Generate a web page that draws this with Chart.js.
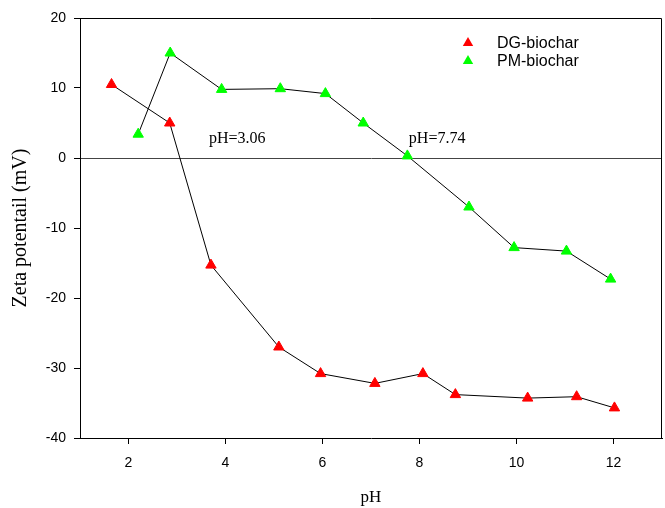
<!DOCTYPE html>
<html>
<head>
<meta charset="utf-8">
<script src="https://cdn.jsdelivr.net/npm/chart.js@4/dist/chart.umd.min.js"></script>
<style>
  html, body { margin: 0; padding: 0; background: #fff; }
  #wrap { width: 665px; height: 508px; }
</style>
</head>
<body>
<div id="wrap"><canvas id="zetaChart" width="665" height="508"></canvas></div>
<script>
// values
const dgPH   = [1.65, 2.85, 3.70, 5.10, 5.96, 7.08, 8.07, 8.74, 10.23, 11.24, 12.02];
const dgZeta = [10.5, 5.0, -15.3, -27.0, -30.8, -32.2, -30.8, -33.8, -34.3, -34.1, -35.7];
const pmPH   = [2.20, 2.86, 3.92, 5.13, 6.06, 6.84, 7.75, 9.02, 9.95, 11.03, 11.94];
const pmZeta = [3.4, 15.0, 9.8, 9.9, 9.2, 5.0, 0.3, -7.0, -12.8, -13.3, -17.3];

const xTicks = [2, 4, 6, 8, 10, 12];
const yTicks = [-40, -30, -20, -10, 0, 10, 20];

// pH of zero charge labels
const pzcLabels = ['pH=3.06', 'pH=7.74'];
const pzcAt = [[3.66, 2.1], [7.78, 2.1]];

const toPoints = (xs, ys) => xs.map((x, i) => ({ x: x, y: ys[i] }));

const sansFont = '"Liberation Sans", Arial, sans-serif';
const serifFont = '"Liberation Serif", "Times New Roman", serif';

// frame on top/right, the pH labels and the legend box
const extras = {
    id: 'extras',
    afterDraw(chart) {
        const ctx = chart.ctx;
        const a = chart.chartArea;
        const xs = chart.scales.x, ys = chart.scales.y;
        ctx.save();
        ctx.strokeStyle = '#000';
        ctx.lineWidth = 1;
        ctx.beginPath();
        ctx.moveTo(a.left, a.top + 0.5);
        ctx.lineTo(a.right - 0.5, a.top + 0.5);
        ctx.lineTo(a.right - 0.5, a.bottom);
        ctx.stroke();

        ctx.fillStyle = '#000';
        ctx.font = '16px ' + serifFont;
        ctx.textAlign = 'left';
        ctx.textBaseline = 'alphabetic';
        pzcLabels.forEach((t, i) => {
            ctx.fillText(t, xs.getPixelForValue(pzcAt[i][0]), ys.getPixelForValue(pzcAt[i][1]));
        });

        // legend
        ctx.font = '16px ' + sansFont;
        ctx.textBaseline = 'middle';
        chart.data.datasets.forEach((ds, i) => {
            const cy = a.top + 25 + i * 18;
            const cx = a.left + 388;
            const r = 6;
            ctx.fillStyle = ds.pointBackgroundColor;
            ctx.beginPath();
            ctx.moveTo(cx, cy - r);
            ctx.lineTo(cx + r * 0.866, cy + r * 0.5);
            ctx.lineTo(cx - r * 0.866, cy + r * 0.5);
            ctx.closePath();
            ctx.fill();
            ctx.fillStyle = '#000';
            ctx.fillText(ds.label, cx + 29, cy + 1);
        });
        ctx.restore();
    }
};

new Chart(document.getElementById('zetaChart').getContext('2d'), {
    type: 'scatter',
    data: {
        datasets: [{
            label: 'DG-biochar',
            data: toPoints(dgPH, dgZeta),
            showLine: true,
            borderColor: '#000',
            borderWidth: 1,
            pointStyle: 'triangle',
            pointRadius: 6,
            pointHoverRadius: 6,
            pointBackgroundColor: '#ff0000',
            pointBorderColor: '#ff0000',
            pointBorderWidth: 1
        }, {
            label: 'PM-biochar',
            data: toPoints(pmPH, pmZeta),
            showLine: true,
            borderColor: '#000',
            borderWidth: 1,
            pointStyle: 'triangle',
            pointRadius: 6,
            pointHoverRadius: 6,
            pointBackgroundColor: '#00ff00',
            pointBorderColor: '#00ff00',
            pointBorderWidth: 1
        }]
    },
    options: {
        responsive: false,
        animation: false,
        layout: { autoPadding: false, padding: { top: 18, right: 3, left: 0, bottom: 0 } },
        plugins: {
            legend: { display: false },
            tooltip: { enabled: false }
        },
        scales: {
            x: {
                type: 'linear',
                min: 1,
                max: 13,
                afterFit: (s) => { s.height = 70; s.paddingRight = 0; s.paddingLeft = 0; },
                afterBuildTicks: (s) => { s.ticks = xTicks.map(v => ({ value: v })); },
                grid: { drawOnChartArea: false, drawTicks: true, tickLength: 6, color: '#000' },
                border: { display: true, color: '#000', width: 1 },
                ticks: { color: '#000', padding: 11, font: { family: sansFont, size: 14 } },
                title: {
                    display: true,
                    text: 'pH',
                    color: '#000',
                    font: { family: serifFont, size: 17 },
                    padding: { top: 0, bottom: 0 }
                }
            },
            y: {
                type: 'linear',
                min: -40,
                max: 20,
                afterFit: (s) => { s.width = 80; },
                afterBuildTicks: (s) => { s.ticks = yTicks.map(v => ({ value: v })); },
                grid: {
                    drawOnChartArea: true,
                    drawTicks: true,
                    tickLength: 6,
                    tickColor: '#000',
                    color: (c) => (c.tick && c.tick.value === 0) ? '#444' : 'rgba(0,0,0,0)'
                },
                border: { display: true, color: '#000', width: 1 },
                ticks: { color: '#000', padding: 8, font: { family: sansFont, size: 14 } },
                title: {
                    display: true,
                    text: 'Zeta potentail (mV)',
                    color: '#000',
                    font: { family: serifFont, size: 20 },
                    padding: { top: 9, bottom: 0 }
                }
            }
        }
    },
    plugins: [extras]
});
</script>
</body>
</html>
